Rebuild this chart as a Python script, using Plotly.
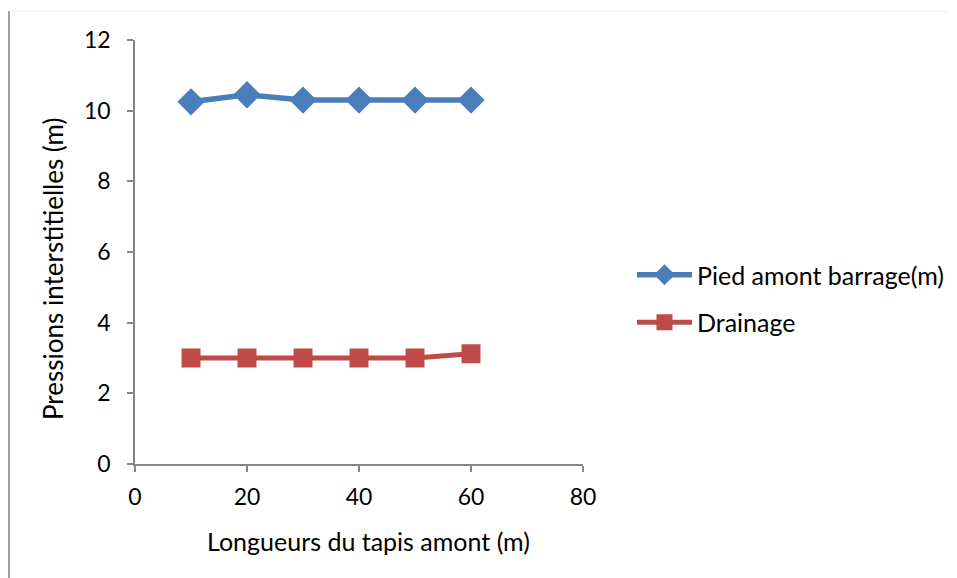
import plotly.graph_objects as go

longueurs = [10, 20, 30, 40, 50, 60]
pied_amont = [10.25, 10.45, 10.3, 10.3, 10.3, 10.3]
drainage = [3.0, 3.0, 3.0, 3.0, 3.0, 3.12]
x_ticks = [0, 20, 40, 60, 80]
y_ticks = [0, 2, 4, 6, 8, 10, 12]
x_title = "Longueurs du tapis amont (m)"
y_title = "Pressions interstitielles (m)"

FONT = "Lato, 'Open Sans', sans-serif"
AX = "#868686"
FS = 23
FT = 25

fig = go.Figure()
fig.add_trace(go.Scatter(
    x=longueurs, y=pied_amont, name="Pied amont barrage(m)",
    mode="lines+markers", legendgroup="a",
    line=dict(color="#4A7EBB", width=5.5),
    marker=dict(symbol="diamond", size=21, color="#4A7EBB"),
))
fig.add_trace(go.Scatter(
    x=longueurs, y=drainage, name="Drainage",
    mode="lines+markers", legendgroup="b",
    line=dict(color="#BE4B48", width=5),
    marker=dict(symbol="square", size=19, color="#BE4B48"),
))

# page has 8px body margin; positions below are in figure pixels
W, H = 957, 578
L, T = 127, 32
pw, ph = 448, 424
R, B = W - L - pw, H - T - ph

def px_x(p):
    return (p - L) / pw

def px_y(p):
    return (T + ph - p) / ph

fig.update_layout(
    width=W, height=H,
    margin=dict(l=L, r=R, t=T, b=B),
    paper_bgcolor="white", plot_bgcolor="white",
    font=dict(family=FONT, size=FS, color="#000000"),
    showlegend=True,
    legend=dict(
        x=px_x(624), y=px_y(244), xanchor="left", yanchor="top",
        font=dict(size=FT, family=FONT),
        traceorder="grouped", tracegroupgap=12,
        itemwidth=55, bgcolor="rgba(0,0,0,0)",
    ),
    xaxis=dict(
        range=[0, 80], tickvals=x_ticks, showgrid=False, zeroline=False,
        showline=True, linecolor=AX, linewidth=1.5,
        ticks="outside", ticklen=6, tickcolor=AX, tickwidth=1.5,
        ticklabelstandoff=6,
        tickfont=dict(size=FS, family=FONT),
    ),
    yaxis=dict(
        range=[0, 12], tickvals=y_ticks, showgrid=False, zeroline=False,
        showline=True, linecolor=AX, linewidth=1.5,
        ticks="outside", ticklen=6, tickcolor=AX, tickwidth=1.5,
        ticklabelstandoff=12,
        tickfont=dict(size=FS, family=FONT),
    ),
    annotations=[
        dict(text=x_title, xref="paper", yref="paper",
             x=px_x(360), y=px_y(533), xanchor="center", yanchor="middle",
             showarrow=False, font=dict(size=FT, family=FONT)),
        dict(text=y_title, xref="paper", yref="paper", textangle=-90,
             x=px_x(45), y=px_y(261), xanchor="center", yanchor="middle",
             showarrow=False, font=dict(size=26, family=FONT)),
    ],
    shapes=[
        dict(type="line", xref="paper", yref="paper",
             x0=px_x(1), x1=px_x(1), y0=px_y(578), y1=px_y(3),
             line=dict(color="#A0A0A0", width=2)),
        dict(type="line", xref="paper", yref="paper",
             x0=px_x(1), x1=px_x(957), y0=px_y(3), y1=px_y(3),
             line=dict(color="#EFEFEF", width=1)),
    ],
)

fig.write_html("out.html")
